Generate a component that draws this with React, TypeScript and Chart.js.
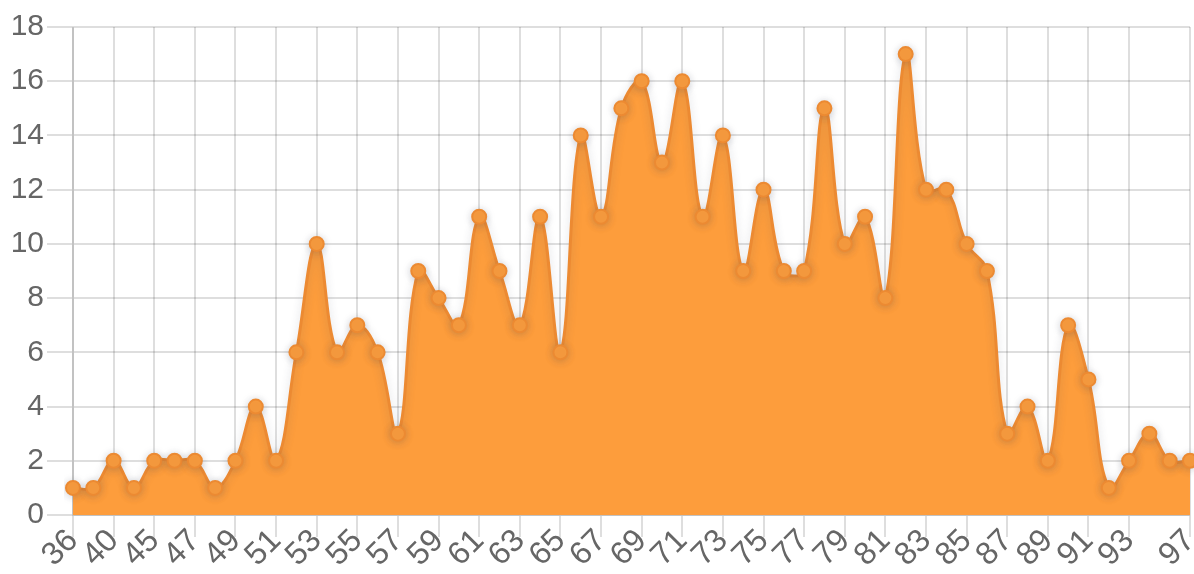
import React, { useEffect, useRef } from "react";
import { Chart, registerables } from "chart.js";

Chart.register(...registerables);

const categories: string[] = [
  "36", "38", "40", "42", "45", "46", "47", "48", "49", "50",
  "51", "52", "53", "54", "55", "56", "57", "58", "59", "60",
  "61", "62", "63", "64", "65", "66", "67", "68", "69", "70",
  "71", "72", "73", "74", "75", "76", "77", "78", "79", "80",
  "81", "82", "83", "84", "85", "86", "87", "88", "89", "90",
  "91", "92", "93", "95", "96", "97",
];

const counts: number[] = [
  1, 1, 2, 1, 2, 2, 2, 1, 2, 4,
  2, 6, 10, 6, 7, 6, 3, 9, 8, 7,
  11, 9, 7, 11, 6, 14, 11, 15, 16, 13,
  16, 11, 14, 9, 12, 9, 9, 15, 10, 11,
  8, 17, 12, 12, 10, 9, 3, 4, 2, 7,
  5, 1, 2, 3, 2, 2,
];

// indices of the category labels that are shown on the x axis
const shownLabelIndices: number[] = [
  0, 2, 4, 6, 8, 10, 12, 14, 16, 18, 20, 22, 24, 26, 28, 30, 32, 34, 36,
  38, 40, 42, 44, 46, 48, 50, 52, 55,
];

const shadowPlugin = {
  id: "lineShadow",
  beforeDatasetDraw(chart: any) {
    const ctx = chart.ctx;
    ctx.save();
    ctx.shadowColor = "rgba(60,70,90,0.22)";
    ctx.shadowBlur = 8;
    ctx.shadowOffsetX = 0;
    ctx.shadowOffsetY = 1;
  },
  afterDatasetDraw(chart: any) {
    chart.ctx.restore();
  },
};

export default function App() {
  const canvasRef = useRef<HTMLCanvasElement | null>(null);

  useEffect(() => {
    if (!canvasRef.current) return;
    const family = "'Liberation Sans', Arial, sans-serif";
    const chart = new Chart(canvasRef.current, {
      type: "line",
      data: {
        labels: categories,
        datasets: [
          {
            data: counts,
            fill: true,
            backgroundColor: "rgb(253,157,60)",
            borderColor: "rgb(236,138,50)",
            borderWidth: 3,
            tension: 0.4,
            pointRadius: 7,
            pointBackgroundColor: "rgb(253,157,60)",
            pointBorderColor: "rgb(236,138,50)",
            pointBorderWidth: 2,
          },
        ],
      },
      plugins: [shadowPlugin],
      options: {
        animation: false,
        responsive: true,
        maintainAspectRatio: false,
        layout: { padding: { left: 0, top: 27, right: 1, bottom: 0 } },
        plugins: {
          legend: { display: false },
          tooltip: { enabled: false },
        },
        scales: {
          x: {
            offset: false,
            afterBuildTicks: (scale: any) => {
              scale.ticks = scale.ticks.filter((t: any) =>
                shownLabelIndices.includes(t.value)
              );
            },
            afterFit: (scale: any) => {
              scale.height = 59;
              scale.paddingLeft = 0;
              scale.paddingRight = 0;
            },
            ticks: {
              autoSkip: false,
              minRotation: 45,
              maxRotation: 45,
              color: "#666",
              font: { family, size: 32 },
              padding: -15,
            },
            grid: {
              color: "rgba(0,0,0,0.13)",
              lineWidth: 2,
              tickLength: 22,
            },
            border: { color: "rgba(0,0,0,0.13)", width: 2 },
          },
          y: {
            min: 0,
            max: 18,
            afterFit: (scale: any) => {
              scale.width = 73;
              scale.paddingTop = 0;
              scale.paddingBottom = 0;
            },
            ticks: {
              stepSize: 2,
              color: "#666",
              font: { family, size: 30 },
              padding: 3,
            },
            grid: {
              color: "rgba(0,0,0,0.13)",
              lineWidth: 2,
              tickLength: 26,
            },
            border: { color: "rgba(0,0,0,0.13)", width: 2 },
          },
        },
      },
    });
    return () => chart.destroy();
  }, []);

  return (
    <div style={{ position: "fixed", left: 0, top: 0, width: 1194, height: 574, overflow: "hidden", background: "#fff" }}>
      <div style={{ position: "absolute", left: 0, top: 0, width: 1199, height: 574 }}>
        <canvas ref={canvasRef} />
      </div>
    </div>
  );
}
